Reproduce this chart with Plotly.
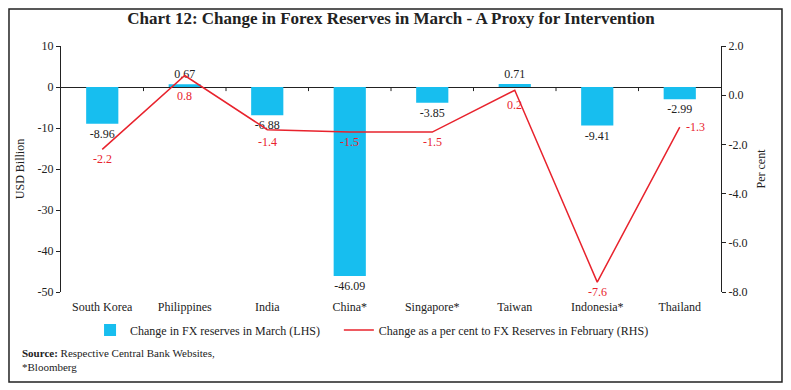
import plotly.graph_objects as go

categories = ["South Korea", "Philippines", "India", "China*", "Singapore*", "Taiwan", "Indonesia*", "Thailand"]
fx_change = [-8.96, 0.67, -6.88, -46.09, -3.85, 0.71, -9.41, -2.99]
pct_change = [-2.2, 0.8, -1.4, -1.5, -1.5, 0.2, -7.6, -1.3]
left_ticks = [-50, -40, -30, -20, -10, 0, 10]
right_ticks = [-8, -6, -4, -2, 0, 2]

# label offsets (styling only, pixels)
pct_label_dy = [-10, -20, -12, -10, -10, -15, -10, 0]
pct_label_dx = [0, 0, 0, 0, 0, 0, 0, 16]

FONT = "Liberation Serif"
BLUE = "#17BEEF"
RED = "#E8232D"

fig = go.Figure()
fig.add_trace(go.Bar(
    x=categories, y=fx_change, name="Change in FX reserves in March (LHS)",
    marker=dict(color=BLUE, line=dict(width=0)), width=0.39,
    text=[f"{v:.2f}" for v in fx_change], textposition="outside",
    textfont=dict(color="#222", size=12, family=FONT), cliponaxis=False,
    legend="legend", showlegend=True,
))
fig.add_trace(go.Scatter(
    x=categories, y=pct_change, yaxis="y2", mode="lines",
    name="Change as a per cent to FX Reserves in February (RHS)",
    line=dict(color=RED, width=1.5), cliponaxis=False,
    legend="legend2", showlegend=True,
))

annotations = []
for c, v, dy, dx in zip(categories, pct_change, pct_label_dy, pct_label_dx):
    annotations.append(dict(x=c, y=v, xref="x", yref="y2", text=f"{v:.1f}", showarrow=False,
                            yshift=dy, xshift=dx, xanchor="center", yanchor="middle",
                            font=dict(color=RED, size=12, family=FONT)))
annotations += [
    dict(text="<b>Source:</b> Respective Central Bank Websites,", xref="paper", yref="paper",
         x=-0.062, y=-0.248, xanchor="left", yanchor="middle", showarrow=False,
         font=dict(size=11, family=FONT)),
    dict(text="*Bloomberg", xref="paper", yref="paper",
         x=-0.062, y=-0.305, xanchor="left", yanchor="middle", showarrow=False,
         font=dict(size=11, family=FONT)),
]

shapes = [
    dict(type="rect", xref="paper", yref="paper", x0=-0.0788, x1=1.0924, y0=-0.3659, y1=1.1504,
         line=dict(color="#222", width=1.5)),
]
for i in range(1, len(categories)):
    shapes.append(dict(type="line", xref="x", yref="y", x0=i - 0.5, x1=i - 0.5, y0=0, y1=-1.0,
                       line=dict(color="#222", width=1)))

legend_common = dict(orientation="h", y=-0.1545, xanchor="left", yanchor="middle",
                     font=dict(size=12, family=FONT), itemwidth=30, bgcolor="rgba(0,0,0,0)",
                     visible=True)

fig.update_layout(
    width=783, height=382,
    margin=dict(l=53, r=70, t=38, b=98),
    paper_bgcolor="white", plot_bgcolor="white",
    showlegend=True,
    font=dict(family=FONT, size=12, color="#222"),
    title=dict(text="<b>Chart 12: Change in Forex Reserves in March - A Proxy for Intervention</b>",
               x=0.5, xanchor="center", y=0.974, yanchor="middle", xref="paper",
               font=dict(size=17, family=FONT, color="#222")),
    xaxis=dict(showline=False, ticks="", showgrid=False, tickfont=dict(size=12),
               range=[-0.5, 7.5], ticklabelstandoff=6),
    yaxis=dict(range=[-50, 10], tickvals=left_ticks, ticktext=[str(v) for v in left_ticks],
               showgrid=False, zeroline=True,
               zerolinecolor="#222", zerolinewidth=1.2, showline=True, linecolor="#222",
               ticks="outside", ticklen=4, tickcolor="#222",
               title=dict(text="USD Billion", font=dict(size=12), standoff=10)),
    yaxis2=dict(range=[-8, 2], tickvals=right_ticks, ticktext=[f"{v:.1f}" for v in right_ticks],
                overlaying="y",
                side="right", showgrid=False, zeroline=False, showline=True, linecolor="#222",
                ticks="outside", ticklen=4, tickcolor="#222",
                title=dict(text="Per cent", font=dict(size=12), standoff=10)),
    legend=dict(x=0.044, **legend_common),
    legend2=dict(x=0.421, **legend_common),
    shapes=shapes,
    annotations=annotations,
)

fig.write_html("out.html")
